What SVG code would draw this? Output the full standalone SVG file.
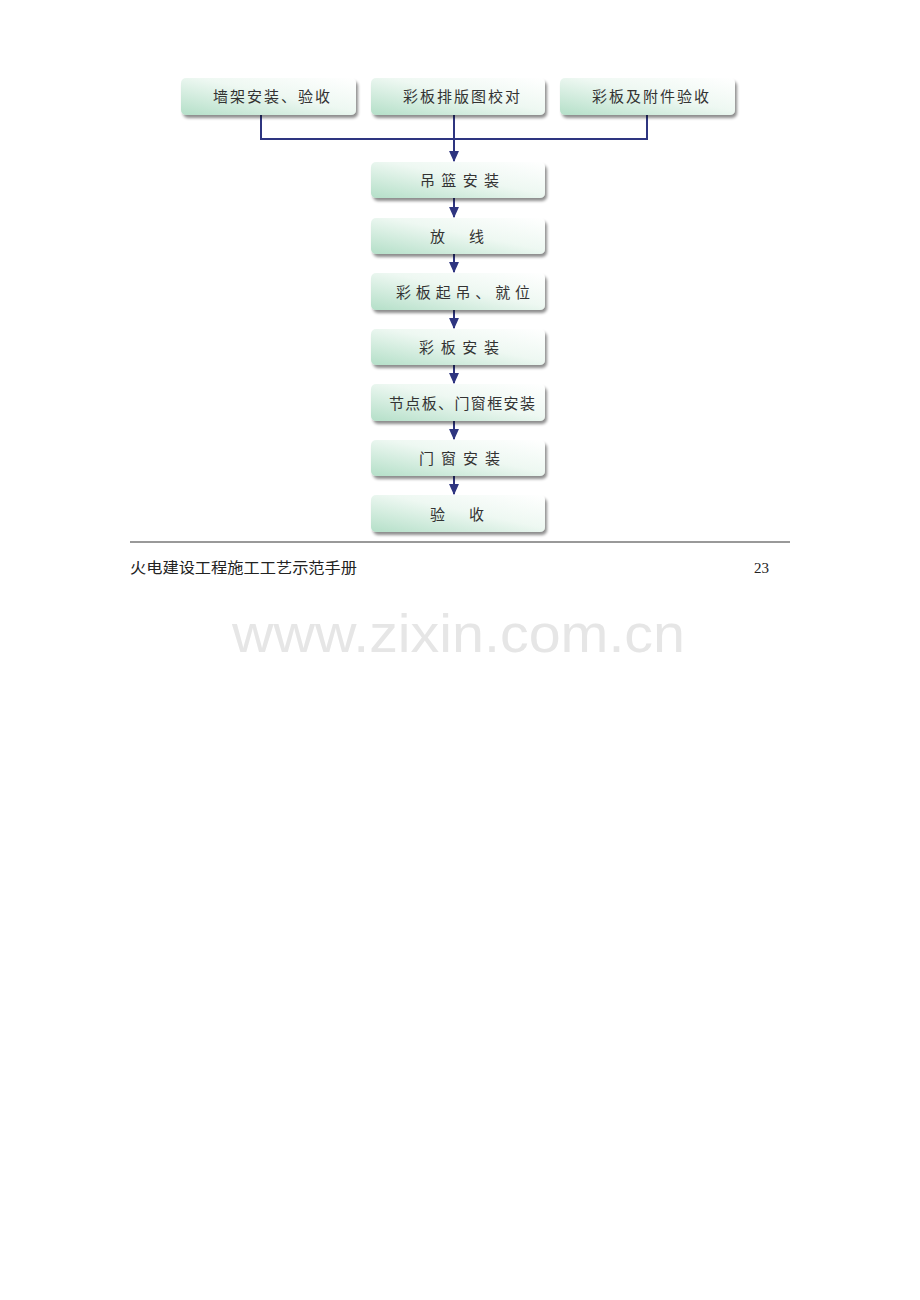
<svg xmlns="http://www.w3.org/2000/svg" width="920" height="1300" viewBox="0 0 920 1300">
<defs>
<linearGradient id="g" x1="1" y1="0" x2="0" y2="1">
<stop offset="0" stop-color="#ffffff"/>
<stop offset="0.45" stop-color="#eef8f2"/>
<stop offset="1" stop-color="#b4dfc8"/>
</linearGradient>
<filter id="sh" x="-10%" y="-20%" width="125%" height="160%">
<feGaussianBlur in="SourceAlpha" stdDeviation="1.5"/>
<feOffset dx="2" dy="2.5" result="b"/>
<feComponentTransfer><feFuncA type="linear" slope="0.45"/></feComponentTransfer>
<feMerge><feMergeNode/><feMergeNode in="SourceGraphic"/></feMerge>
</filter>
<marker id="ah" viewBox="0 0 10 10" refX="9" refY="5" markerWidth="11" markerHeight="11" orient="auto" markerUnits="userSpaceOnUse">
<path d="M0,0.5 L10,5 L0,9.5 z" fill="#2e3580"/>
</marker>
</defs>
<style>
.box{fill:url(#g);filter:url(#sh);}
.t{font-family:"Noto Sans CJK SC","Noto Sans",sans-serif;font-size:15px;fill:#333;}
.c{stroke:#2e3580;stroke-width:2;fill:none;}
.ft{font-family:"Liberation Serif","Noto Sans CJK SC",serif;font-size:15px;fill:#222;}
</style>
<rect width="920" height="1300" fill="#fff"/>
<g id="connectors">
<path class="c" d="M261,115 V139 H647 V115"/>
<path class="c" d="M454,115 V139"/>
<path class="c" d="M454,139 V161" marker-end="url(#ah)"/>
<path class="c" d="M454,198 V217" marker-end="url(#ah)"/>
<path class="c" d="M454,254 V272" marker-end="url(#ah)"/>
<path class="c" d="M454,310 V328" marker-end="url(#ah)"/>
<path class="c" d="M454,365 V383" marker-end="url(#ah)"/>
<path class="c" d="M454,421 V439" marker-end="url(#ah)"/>
<path class="c" d="M454,476 V494" marker-end="url(#ah)"/>
</g>
<g id="n1"><rect class="box" x="181" y="78" width="175" height="37" rx="5"/><text class="t" x="213" y="102" textLength="117" lengthAdjust="spacing">墙架安装、验收</text></g>
<g id="n2"><rect class="box" x="371" y="78" width="174" height="37" rx="5"/><text class="t" x="403" y="102" textLength="117" lengthAdjust="spacing">彩板排版图校对</text></g>
<g id="n3"><rect class="box" x="560" y="78" width="175" height="37" rx="5"/><text class="t" x="592" y="102" textLength="117" lengthAdjust="spacing">彩板及附件验收</text></g>
<g id="n4"><rect class="box" x="371" y="162" width="174" height="36" rx="5"/><text class="t" x="420" y="186" textLength="79" lengthAdjust="spacing">吊篮安装</text></g>
<g id="n5"><rect class="box" x="371" y="218" width="174" height="36" rx="5"/><text class="t" x="430" y="242" textLength="54" lengthAdjust="spacing">放线</text></g>
<g id="n6"><rect class="box" x="371" y="273" width="174" height="37" rx="5"/><text class="t" x="396" y="298" textLength="134" lengthAdjust="spacing">彩板起吊、就位</text></g>
<g id="n7"><rect class="box" x="371" y="329" width="174" height="36" rx="5"/><text class="t" x="419" y="353" textLength="80" lengthAdjust="spacing">彩板安装</text></g>
<g id="n8"><rect class="box" x="371" y="384" width="174" height="37" rx="5"/><text class="t" x="389" y="409" textLength="146" lengthAdjust="spacing">节点板、门窗框安装</text></g>
<g id="n9"><rect class="box" x="371" y="440" width="174" height="36" rx="5"/><text class="t" x="419" y="464" textLength="81" lengthAdjust="spacing">门窗安装</text></g>
<g id="n10"><rect class="box" x="371" y="495" width="174" height="37" rx="5"/><text class="t" x="430" y="520" textLength="54" lengthAdjust="spacing">验收</text></g>
<line x1="130" y1="542" x2="790" y2="542" stroke="#777" stroke-width="1.5"/>
<text class="ft" x="130" y="573" textLength="227" lengthAdjust="spacingAndGlyphs">火电建设工程施工工艺示范手册</text>
<text class="ft" x="754" y="573">23</text>
<text x="232" y="652" font-family="Liberation Sans, Arial, sans-serif" font-size="54" fill="#e6e6e6" textLength="453" lengthAdjust="spacingAndGlyphs">www.zixin.com.cn</text>
</svg>
